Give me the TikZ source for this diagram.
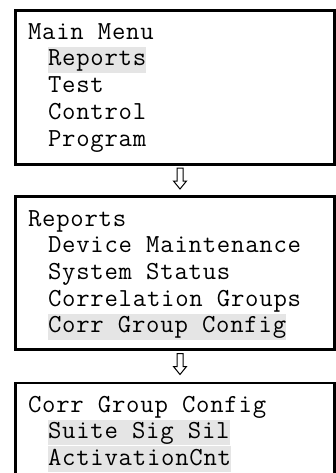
\documentclass[tikz,border=0pt]{standalone}
\usepackage{fontspec}
\newfontfamily\menufont{Latin Modern Mono}[LetterSpace=2.9]
\begin{document}
\begin{tikzpicture}[x=1pt,y=-1pt,
  menubox/.style={draw=black, line width=2.7pt, fill=white, rectangle, inner sep=0pt, outer sep=0pt, anchor=north west, minimum width=319.4pt},
  menutext/.style={inner sep=0pt, outer sep=0pt, anchor=base west, font=\menufont\fontsize{26}{26.7}\selectfont, text height=19pt, text depth=7pt},
  hl/.style={menutext, fill=black!10},
  hlgap/.style={hl, text depth=6pt},
  downarrow/.style={draw=black, line width=1pt, fill=white, line join=miter}
]
\useasboundingbox (0,0) rectangle (336,473);
\clip (0,0) rectangle (336,473);

% box 1
\node[menubox, minimum height=154pt] (box1) at (15.3,10.3) {};
\node[menutext] (t11) at (28,39.3) {Main Menu};
\node[hl]       (t12) at (48,66) {Reports};
\node[menutext] (t13) at (48,92.7) {Test};
\node[menutext] (t14) at (48,119.4) {Control};
\node[menutext] (t15) at (48,146.1) {Program};

% arrow 1
\coordinate (ar1) at (180,168);
\draw[downarrow, shift={(ar1)}] (-3,0) -- (-3,13) -- (-6.5,13) -- (0,21) -- (6.5,13) -- (3,13) -- (3,0) -- cycle;

% box 2
\node[menubox, minimum height=153pt] (box2) at (15.3,196.7) {};
\node[menutext] (t21) at (28,226) {Reports};
\node[menutext] (t22) at (48,252.7) {Device Maintenance};
\node[menutext] (t23) at (48,279.4) {System Status};
\node[menutext] (t24) at (48,306.1) {Correlation Groups};
\node[hl]       (t25) at (48,332.8) {Corr Group Config};

% arrow 2
\coordinate (ar2) at (180,353.5);
\draw[downarrow, shift={(ar2)}] (-3,0) -- (-3,13) -- (-6.5,13) -- (0,21) -- (6.5,13) -- (3,13) -- (3,0) -- cycle;

% box 3 (continues beyond the bottom edge)
\node[menubox, minimum height=120pt] (box3) at (15.3,383) {};
\node[menutext] (t31) at (28,412) {Corr Group Config};
\node[hlgap]    (t32) at (48,438.7) {Suite Sig Sil};
\node[hl]       (t33) at (48,465.4) {ActivationCnt};
\end{tikzpicture}
\end{document}
